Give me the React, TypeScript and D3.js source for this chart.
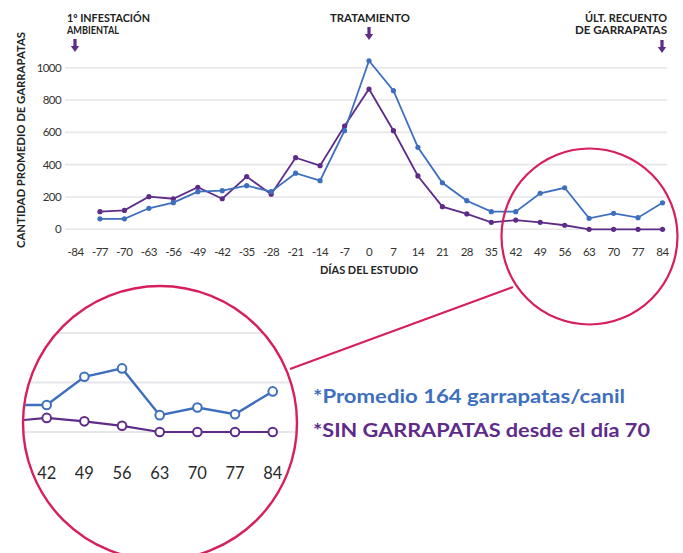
import React from "react";
import * as d3 from "d3";

const days = [-77, -70, -63, -56, -49, -42, -35, -28, -21, -14, -7, 0, 7, 14, 21, 28, 35, 42, 49, 56, 63, 70, 77, 84];
const blueValues = [65, 65, 130, 165, 233, 239, 270, 233, 347, 301, 610, 1043, 858, 507, 288, 177, 109, 109, 223, 257, 68, 99, 72, 164];
const purpleValues = [109, 117, 202, 189, 260, 189, 326, 217, 443, 394, 639, 868, 610, 330, 140, 95, 43, 57, 43, 25, 0, 0, 0, 0];
const xTicks = d3.range(-84, 85, 7);
const yTicks = [0, 200, 400, 600, 800, 1000];
const zoomTicks = [42, 49, 56, 63, 70, 77, 84];
const zoomGrid = [0, 200, 400, 600];
const legendLines = ["*Promedio 164 garrapatas/canil", "*SIN GARRAPATAS desde el día 70"];

const BLUE = "#3d6fbe";
const PURPLE = "#5e2c88";
const PINK = "#d61f5b";
const GRID = "#e6e6eb";
const FONT = "Lato, 'Open Sans', sans-serif";

type Pt = { d: number; v: number };
const blue: Pt[] = days.map((d, i) => ({ d, v: blueValues[i] }));
const purple: Pt[] = days.map((d, i) => ({ d, v: purpleValues[i] }));

function Arrow({ x, y0, y1 }: { x: number; y0: number; y1: number }) {
  const head = 6;
  return (
    <path
      d={`M${x - 1.6},${y0} L${x + 1.6},${y0} L${x + 1.6},${y1 - head} L${x + 4.2},${y1 - head} L${x},${y1} L${x - 4.2},${y1 - head} L${x - 1.6},${y1 - head} Z`}
      fill={PURPLE}
    />
  );
}

export default function App() {
  const x = d3.scaleLinear().domain([-84, 84]).range([75.5, 662.5]);
  const y = d3.scaleLinear().domain([0, 1000]).range([229.3, 67.7]);
  const line = d3.line<Pt>().x((p) => x(p.d)).y((p) => y(p.v));

  const zx = d3.scaleLinear().domain([42, 84]).range([46.7, 272.7]);
  const zy = d3.scaleLinear().domain([0, 400]).range([432, 333]);
  const zline = d3.line<Pt>().x((p) => zx(p.d)).y((p) => zy(p.v));
  const zBlue = blue.filter((p) => p.d >= 35);
  const zPurple = purple.filter((p) => p.d >= 35);

  const big = { cx: 160, cy: 423, r: 137 };
  const small = { cx: 589.5, cy: 236.5, r: 88 };

  return (
    <svg
      width={683}
      height={553}
      style={{ position: "absolute", left: 0, top: 0, background: "#fff" }}
      fontFamily={FONT}
    >
      <defs>
        <clipPath id="zoomClip">
          <circle cx={big.cx} cy={big.cy} r={big.r - 1} />
        </clipPath>
      </defs>
      <rect width={683} height={553} fill="#fff" />

      {/* main gridlines */}
      {yTicks.map((t) => (
        <line key={t} x1={65} x2={667} y1={y(t)} y2={y(t)} stroke={GRID} strokeWidth={1.6} />
      ))}
      {yTicks.map((t) => (
        <text key={t} x={61} y={y(t)} dy="0.35em" textAnchor="end" fontSize={11.5} fill="#333" letterSpacing={-0.6}>
          {t}
        </text>
      ))}
      {xTicks.map((t) => (
        <text key={t} x={x(t)} y={256} textAnchor="middle" fontSize={11.5} fill="#333" letterSpacing={-0.5}>
          {t}
        </text>
      ))}
      <text
        transform="translate(25,140) rotate(-90)"
        textAnchor="middle"
        fontSize={10.5}
        fontWeight="bold"
        fill="#222"
        textLength={216}
        lengthAdjust="spacingAndGlyphs"
      >
        CANTIDAD PROMEDIO DE GARRAPATAS
      </text>
      <text x={369} y={274} textAnchor="middle" fontSize={10.5} fontWeight="bold" fill="#222" textLength={98} lengthAdjust="spacingAndGlyphs">
        DÍAS DEL ESTUDIO
      </text>

      {/* series */}
      <path d={line(purple) || ""} fill="none" stroke={PURPLE} strokeWidth={1.8} />
      <path d={line(blue) || ""} fill="none" stroke={BLUE} strokeWidth={1.8} />
      {purple.map((p) => (
        <circle key={"p" + p.d} cx={x(p.d)} cy={y(p.v)} r={2.6} fill={PURPLE} />
      ))}
      {blue.map((p) => (
        <circle key={"b" + p.d} cx={x(p.d)} cy={y(p.v)} r={2.6} fill={BLUE} />
      ))}

      {/* top annotations */}
      <text x={67} y={22} fontSize={10.5} fontWeight="bold" fill="#222" textLength={83} lengthAdjust="spacingAndGlyphs">1º INFESTACIÓN</text>
      <text x={67} y={34} fontSize={10.5} fontWeight="bold" fill="#222" textLength={52} lengthAdjust="spacingAndGlyphs">AMBIENTAL</text>
      <Arrow x={75} y0={39} y1={52} />
      <text x={370} y={22} textAnchor="middle" fontSize={10.5} fontWeight="bold" fill="#222" textLength={80} lengthAdjust="spacingAndGlyphs">TRATAMIENTO</text>
      <Arrow x={369} y0={27} y1={40} />
      <text x={667} y={22} textAnchor="end" fontSize={10.5} fontWeight="bold" fill="#222" textLength={82} lengthAdjust="spacingAndGlyphs">ÚLT. RECUENTO</text>
      <text x={667} y={34} textAnchor="end" fontSize={10.5} fontWeight="bold" fill="#222" textLength={92} lengthAdjust="spacingAndGlyphs">DE GARRAPATAS</text>
      <Arrow x={662} y0={40} y1={53} />

      {/* magnifier */}
      <circle cx={small.cx} cy={small.cy} r={small.r} fill="none" stroke={PINK} strokeWidth={2.2} />
      <line x1={290} y1={369} x2={513} y2={287} stroke={PINK} strokeWidth={2.2} />

      <g clipPath="url(#zoomClip)">
        <rect x={big.cx - big.r} y={big.cy - big.r} width={big.r * 2} height={big.r * 2} fill="#fff" />
        {zoomGrid.map((t) => (
          <line key={t} x1={0} x2={320} y1={zy(t)} y2={zy(t)} stroke={GRID} strokeWidth={2.2} />
        ))}
        <path d={zline(zPurple) || ""} fill="none" stroke={PURPLE} strokeWidth={2.2} />
        <path d={zline(zBlue) || ""} fill="none" stroke={BLUE} strokeWidth={2.4} />
        {zPurple.map((p) => (
          <circle key={"zp" + p.d} cx={zx(p.d)} cy={zy(p.v)} r={4.3} fill="#fff" stroke={PURPLE} strokeWidth={2} />
        ))}
        {zBlue.map((p) => (
          <circle key={"zb" + p.d} cx={zx(p.d)} cy={zy(p.v)} r={4.3} fill="#fff" stroke={BLUE} strokeWidth={2} />
        ))}
        {zoomTicks.map((t) => (
          <text key={t} x={zx(t)} y={479} textAnchor="middle" fontSize={16.5} fill="#2a2a2a">
            {t}
          </text>
        ))}
      </g>
      <circle cx={big.cx} cy={big.cy} r={big.r} fill="none" stroke={PINK} strokeWidth={2.4} />

      {/* legend notes */}
      <text x={313} y={403} fontSize={19.5} fontWeight="bold" fill={BLUE} textLength={312} lengthAdjust="spacingAndGlyphs">
        {legendLines[0]}
      </text>
      <text x={313} y={437} fontSize={19.5} fontWeight="bold" fill={PURPLE} textLength={337} lengthAdjust="spacingAndGlyphs">
        {legendLines[1]}
      </text>
    </svg>
  );
}
